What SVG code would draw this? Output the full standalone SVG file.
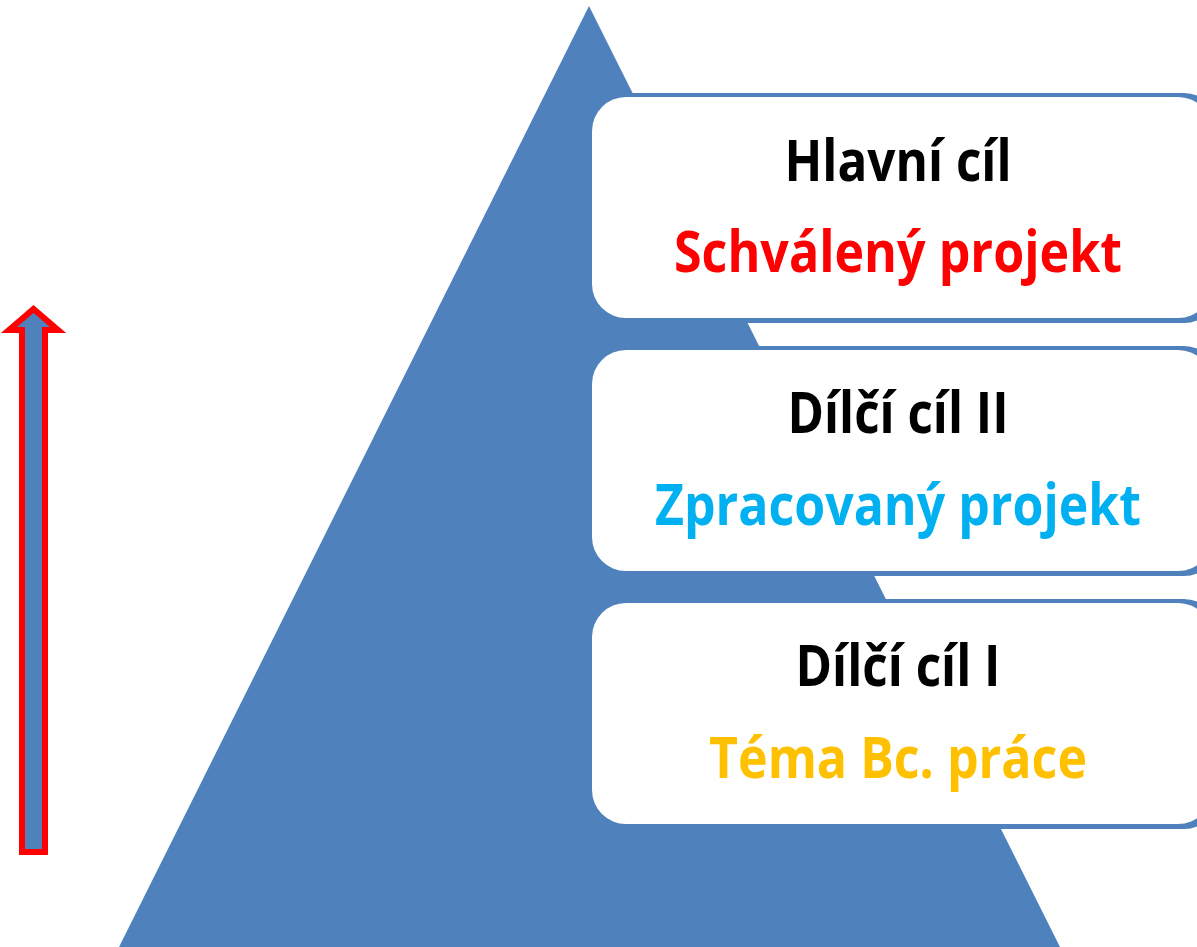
<svg xmlns="http://www.w3.org/2000/svg" width="1197" height="947" viewBox="0 0 1197 947">
<style>
.tri{fill:#4F81BD}
.shadow{fill:#4F81BD}
.card{fill:#FFFFFF}
.t{font-family:"Open Sans","Liberation Sans",sans-serif;font-weight:bold;font-size:58px;text-anchor:middle}
.k{fill:#000000}
.r{fill:#FF0000}
.c{fill:#00B0F0}
.y{fill:#FFC000}
</style>
<rect width="1197" height="947" fill="#FFFFFF"/>
<g id="pyramid"><polygon class="tri" points="589,6 1060,947 119,947"/></g>
<g id="arrow"><path d="M22,852 L22,330 L9,330 L33.5,309 L58,330 L45,330 L45,852 Z" fill="#4F81BD" stroke="#FF0000" stroke-width="6"/></g>
<g id="box-top">
<rect class="shadow" x="598" y="93" width="620" height="230" rx="34"/>
<rect class="card" x="592" y="97" width="620" height="221" rx="34"/>
<text class="t k" x="898" y="181" textLength="227" lengthAdjust="spacingAndGlyphs">Hlavní cíl</text>
<text class="t r" x="898" y="272" textLength="448" lengthAdjust="spacingAndGlyphs">Schválený projekt</text>
</g>
<g id="box-mid">
<rect class="shadow" x="598" y="346" width="620" height="230" rx="34"/>
<rect class="card" x="592" y="350" width="620" height="221" rx="34"/>
<text class="t k" x="898" y="433" textLength="221" lengthAdjust="spacingAndGlyphs">Dílčí cíl II</text>
<text class="t c" x="898" y="525" textLength="486" lengthAdjust="spacingAndGlyphs">Zpracovaný projekt</text>
</g>
<g id="box-bottom">
<rect class="shadow" x="598" y="599" width="620" height="230" rx="34"/>
<rect class="card" x="592" y="603" width="620" height="221" rx="34"/>
<text class="t k" x="898" y="686" textLength="205" lengthAdjust="spacingAndGlyphs">Dílčí cíl I</text>
<text class="t y" x="898" y="778" textLength="378" lengthAdjust="spacingAndGlyphs">Téma Bc. práce</text>
</g>
<g id="connectors"></g>
</svg>
